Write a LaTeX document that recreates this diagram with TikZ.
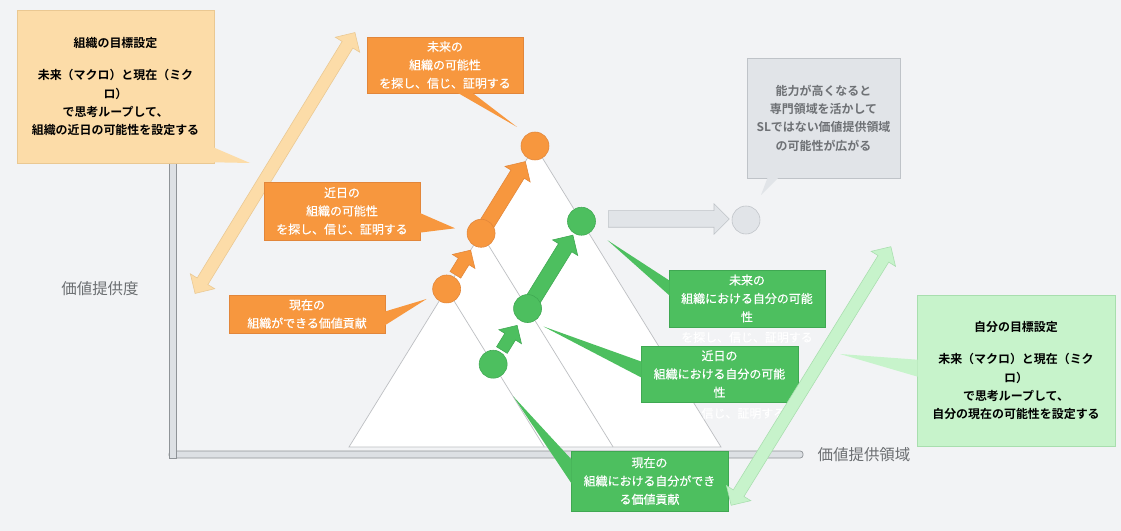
\documentclass[tikz,border=0pt]{standalone}
\usepackage{fontspec}
\setmainfont{Noto Sans CJK JP}[BoldFont={Noto Sans CJK JP Bold}]
\newfontfamily\medfont{Noto Sans CJK JP}[FakeBold=0.5]
\usetikzlibrary{calc,shapes.arrows}
\definecolor{bg}{HTML}{F2F3F5}
\definecolor{orng}{HTML}{F7973E}
\definecolor{orngdk}{HTML}{E2863A}
\definecolor{grn}{HTML}{4DBF5F}
\definecolor{grndk}{HTML}{3FA852}
\definecolor{peach}{HTML}{FCDCA8}
\definecolor{peachdk}{HTML}{EAC892}
\definecolor{mint}{HTML}{C7F3CB}
\definecolor{mintdk}{HTML}{A8DEAE}
\definecolor{lgray}{HTML}{E1E4E8}
\definecolor{lgraydk}{HTML}{BFC3C8}
\definecolor{tri}{HTML}{BDBFC2}
\definecolor{barc}{HTML}{DDE0E4}
\definecolor{bardk}{HTML}{8F9397}
\definecolor{lblc}{HTML}{6B6E71}
\definecolor{gtxt}{HTML}{6E7175}
\begin{document}
\begin{tikzpicture}[x=0.025cm,y=-0.025cm,every node/.style={inner sep=0pt,align=center},
    sz/.style 2 args={minimum width=#1*0.025cm,minimum height=#2*0.025cm},
    txt/.style={font=\fontsize{8.5}{13}\selectfont\medfont},
    hd/.style={font=\fontsize{8.5}{13}\selectfont\bfseries},
    obox/.style={txt,fill=orng,draw=orngdk,line width=0.4pt,text=white},
    gbox/.style={txt,fill=grn,draw=grndk,line width=0.4pt,text=white},
    fat/.style n args={3}{single arrow,minimum height=#1*0.025cm,inner ysep=#2*0.0125cm,inner xsep=0pt,single arrow head extend=#3*0.025cm,line width=0.4pt},
    fat2/.style n args={3}{double arrow,minimum height=#1*0.025cm,inner ysep=#2*0.0125cm,inner xsep=0pt,double arrow head extend=#3*0.025cm,line width=0.4pt},
    axislbl/.style={font=\fontsize{11}{13}\selectfont,text=lblc}]
  \fill[bg](0,0)rectangle(1121,531);
  \filldraw[fill=barc,draw=bardk,line width=0.5pt,rounded corners=2](169,451)rectangle(803,458);
  \filldraw[fill=barc,draw=bardk,line width=0.5pt](169,150)rectangle(176,458);
  \coordinate(apex)at(535,146);
  \coordinate(bl)at(349,447);
  \coordinate(br)at(721,447);
  \coordinate(o3)at(apex);
  \coordinate(o2)at($(apex)!0.29!(bl)$);
  \coordinate(o1)at($(apex)!0.475!(bl)$);
  \coordinate(g3)at($(apex)!0.25!(br)$);
  \coordinate(g2)at($(o2)+(g3)-(apex)$);
  \coordinate(g1)at($(o1)+(g3)-(apex)$);
  \coordinate(sl)at(746,220);
  \filldraw[fill=white,draw=tri,line width=0.5pt](apex)--(bl)--(br)--cycle;
  \draw[tri,line width=0.5pt](o1)--($(bl)!0.525!(br)$) (o2)--($(bl)!0.71!(br)$);
  \node[fat2={306}{12}{8},fill=peach,draw=peachdk,rotate=58.5] (yarr) at (275,163) {};
  \node[fat={84}{15}{7},fill=orng,draw=orngdk,anchor=tail,rotate=58.3] (oarr) at (o2) {};
  \node[fat={29}{12}{7},fill=orng,draw=orngdk,anchor=tail,rotate=58.3] (oarrs) at ($(o1)!0.25!(o2)$) {};
  \node[fat={86}{15}{7},fill=grn,draw=grndk,anchor=tail,rotate=58.3] (garr) at (g2) {};
  \node[fat={29}{12}{7},fill=grn,draw=grndk,anchor=tail,rotate=58.3] (garrs) at ($(g1)!0.25!(g2)$) {};
  \node[fat={121}{16}{7},fill=lgray,draw=lgraydk,anchor=tail] (sarr) at (608,219) {};
  \foreach \x in{o1,o2,o3}
    \filldraw[fill=orng,draw=orngdk,line width=0.4pt](\x)circle(14);
  \foreach \x in{g1,g2,g3}
    \filldraw[fill=grn,draw=grndk,line width=0.4pt](\x)circle(14);
  \filldraw[fill=lgray,draw=lgraydk,line width=0.4pt](sl)circle(14);
  \coordinate(ty)at(250,163);
  \coordinate(tm)at(840,354);
  \node[hd,sz={197}{153},fill=peach,draw=peachdk,line width=0.4pt] (goal1) at (115.5,86.5)
    {組織の目標設定\\[10pt]未来（マクロ）と現在（ミク\\ロ）\\で思考ループして、\\組織の近日の可能性を設定する};
  \fill[peach]($(goal1.south east)+(-1,-16)$)--(ty)--($(goal1.south east)+(-1,-1)$)--cycle;
  \node[obox,sz={156}{56}] (fut) at (445,65) {未来の\\組織の可能性\\を探し、信じ、証明する};
  \fill[orng]($(fut.south west)+(90,-1)$)--($(o3)+(-18,-19)$)--($(fut.south west)+(105,-1)$)--cycle;
  \node[obox,sz={156}{58}] (near) at (342,211) {近日の\\組織の可能性\\を探し、信じ、証明する};
  \fill[orng]($(near.north east)+(-1,31)$)--($(o2)+(-26,-5)$)--($(near.north east)+(-1,51)$)--cycle;
  \node[obox,sz={156}{38}] (now) at (307,314) {現在の\\組織ができる価値貢献};
  \fill[orng]($(now.north east)+(-1,17)$)--($(o1)+(-20,10)$)--($(now.north east)+(-1,31)$)--cycle;
  \node[hd,text=gtxt,sz={153}{120},fill=lgray,draw=lgraydk,line width=0.4pt] (grey) at (823.5,118)
    {能力が高くなると\\専門領域を活かして\\SLではない価値提供領域\\の可能性が広がる};
  \fill[lgray]($(grey.south west)+(21,-1)$)--($(sl)+(15,-25)$)--($(grey.south west)+(32,-1)$)--cycle;
  \node[gbox,sz={156}{57}] (gfut) at (747,298.5) {未来の\\組織における自分の可能\\性};
  \node[txt,text=white] at ($(gfut.south)+(0,10)$) {を探し、信じ、証明する};
  \fill[grn]($(gfut.north west)+(1,11)$)--($(g3)+(26,19)$)--($(gfut.north west)+(1,26)$)--cycle;
  \node[gbox,sz={157}{56}] (gnear) at (719.5,374) {近日の\\組織における自分の可能\\性};
  \node[txt,text=white] at ($(gnear.south)+(0,11)$) {を探し、信じ、証明する};
  \fill[grn]($(gnear.north west)+(1,16)$)--($(g2)+(16,18)$)--($(gnear.north west)+(1,32)$)--cycle;
  \node[gbox,sz={157}{60}] (gnow) at (649.5,481) {現在の\\組織における自分ができ\\る価値貢献};
  \fill[grn]($(gnow.north west)+(1,9)$)--($(g1)+(20,32)$)--($(gnow.north west)+(1,33)$)--cycle;
  \node[fat2={304}{12}{8},fill=mint,draw=mintdk,rotate=58.3] (marr) at (811,376) {};
  \node[hd,sz={198}{151},fill=mint,draw=mintdk,line width=0.4pt] (goal2) at (1016,370.5)
    {自分の目標設定\\[10pt]未来（マクロ）と現在（ミク\\ロ）\\で思考ループして、\\自分の現在の可能性を設定する};
  \fill[mint]($(goal2.north west)+(1,65)$)--(tm)--($(goal2.north west)+(1,82)$)--cycle;
  \node[axislbl] (ylab) at (100,289) {価値提供度};
  \node[axislbl] (xlab) at (864,455) {価値提供領域};
\end{tikzpicture}
\end{document}
